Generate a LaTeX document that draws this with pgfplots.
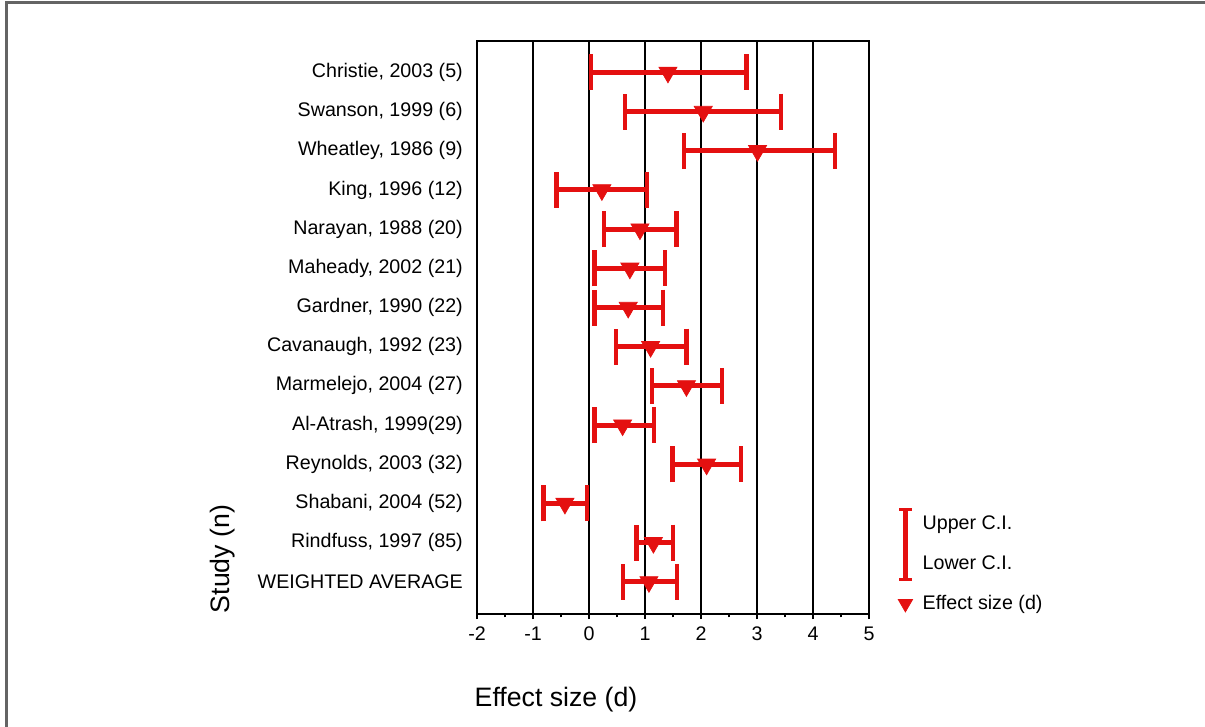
\documentclass[border=0pt]{standalone}
\usepackage{pgfplots}
\pgfplotsset{compat=1.18}
\usepackage{pgfplotstable}
\usepackage{fontspec}
\setmainfont{Liberation Sans}
\definecolor{cired}{RGB}{228,16,16}
\definecolor{framegray}{RGB}{100,100,100}
\pgfplotstableread{
y x em ep
14 1.41 1.37 1.40
13 2.04 1.40 1.39
12 3.01 1.31 1.38
11 0.23 0.81 0.80
10 0.91 0.64 0.65
9 0.73 0.63 0.63
8 0.70 0.60 0.62
7 1.10 0.62 0.64
6 1.74 0.61 0.64
5 0.60 0.50 0.56
4 2.10 0.61 0.62
3 -0.43 0.38 0.39
2 1.15 0.30 0.35
1 1.07 0.46 0.50
}\effects
\begin{document}
\begin{tikzpicture}
\path[use as bounding box] (0,0) rectangle (723pt,436.2pt);
\draw[framegray, line width=1.3pt] (3.9pt,0) -- (3.9pt,434.7pt) -- (723pt,434.7pt);
\begin{axis}[
  at={(286.2pt,67.8pt)}, anchor=south west,
  width=235.2pt, height=343.8pt, scale only axis,
  xmin=-2, xmax=5, ymin=0.18, ymax=14.8,
  axis line style={black, line width=1.2pt},
  xtick={-2,...,5}, minor x tick num=1,
  xtick pos=bottom, tick align=outside,
  major tick length=3pt, minor tick length=2pt,
  every tick/.style={black, line width=1pt},
  xmajorgrids, major grid style={black, line width=0.9pt},
  ytick={1,...,14},
  yticklabels={WEIGHTED AVERAGE, {Rindfuss, 1997 (85)}, {Shabani, 2004 (52)}, {Reynolds, 2003 (32)}, {Al-Atrash, 1999(29)}, {Marmelejo, 2004 (27)}, {Cavanaugh, 1992 (23)}, {Gardner, 1990 (22)}, {Maheady, 2002 (21)}, {Narayan, 1988 (20)}, {King, 1996 (12)}, {Wheatley, 1986 (9)}, {Swanson, 1999 (6)}, {Christie, 2003 (5)}},
  y tick style={draw=none},
  ytick pos=left,
  /pgf/number format/assume math mode=true,
  ticklabel style={font=\fontsize{11.8}{13.5}\selectfont},
  yticklabel style={xshift=-2pt},
  xticklabel style={yshift=-1pt},
  xlabel={Effect size (d)}, ylabel={Study (n)},
  label style={font=\fontsize{16}{19}\selectfont},
  xlabel style={at={(axis description cs:0.2015,-0.150)}, anchor=center},
  ylabel style={at={(axis description cs:-0.648,0.096)}, anchor=center},
  legend style={at={(axis description cs:1.043,0.183)}, anchor=north west, draw=none, fill=none,
    font=\fontsize{11.8}{13.5}\selectfont, row sep=10pt, column sep=4pt, cells={anchor=west}},
]
\addplot[forget plot, cired, only marks, mark=triangle*, mark size=6.3pt, mark options={rotate=180, fill=cired, draw=cired},
  error bars/.cd, x dir=both, x explicit,
  error bar style={line width=3pt, cired},
  error mark=|, error mark options={line width=2.6pt, mark size=10.8pt, cired}]
  table[x=x, y=y, x error plus=ep, x error minus=em] {\effects};
\addlegendimage{legend image code/.code={
  \draw[overlay, cired, line width=2.6pt] (0.3cm,9pt) -- (0.3cm,-33pt);
  \draw[overlay, cired, line width=2pt] (0.3cm-3.8pt,9pt) -- (0.3cm+3.8pt,9pt);
  \draw[overlay, cired, line width=2pt] (0.3cm-3.8pt,-33pt) -- (0.3cm+3.8pt,-33pt);
}}
\addlegendentry{Upper C.I.}
\addlegendimage{empty legend}
\addlegendentry{Lower C.I.}
\addlegendimage{only marks, mark=triangle*, mark size=5pt, mark options={rotate=180, fill=cired, draw=cired}}
\addlegendentry{Effect size (d)}
\end{axis}
\end{tikzpicture}
\end{document}
